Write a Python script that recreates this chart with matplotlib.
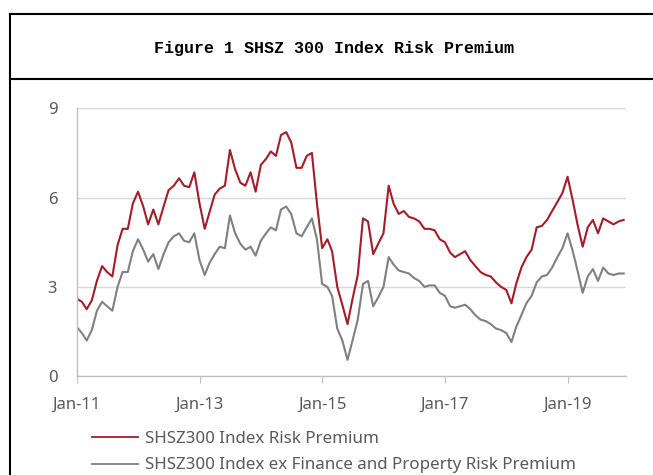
import matplotlib.pyplot as plt
import matplotlib.dates as mdates
from matplotlib.lines import Line2D
import pandas as pd

# monthly readings, Jan-2011 .. Dec-2019
months = pd.date_range('2011-01-01', periods=108, freq='MS')

risk_premium = [
    2.6, 2.5, 2.25, 2.55, 3.2, 3.7, 3.5, 3.35, 4.4, 4.95, 4.95, 5.8,
    6.2, 5.7, 5.1, 5.6, 5.1, 5.7, 6.25, 6.4, 6.65, 6.4, 6.35, 6.85,
    5.8, 4.95, 5.5, 6.1, 6.3, 6.4, 7.6, 6.95, 6.5, 6.4, 6.85, 6.2,
    7.1, 7.3, 7.55, 7.4, 8.1, 8.2, 7.85, 7.0, 7.0, 7.4, 7.5, 5.8,
    4.3, 4.6, 4.2, 3.0, 2.4, 1.75, 2.6, 3.4, 5.3, 5.2, 4.1, 4.45,
    4.8, 6.4, 5.8, 5.45, 5.55, 5.35, 5.3, 5.2, 4.95, 4.95, 4.9, 4.6,
    4.5, 4.15, 4.0, 4.1, 4.2, 3.9, 3.7, 3.5, 3.4, 3.35, 3.15, 3.0,
    2.9, 2.45, 3.1, 3.65, 4.0, 4.25, 5.0, 5.05, 5.25, 5.55, 5.85, 6.15,
    6.7, 5.9, 5.1, 4.35, 5.0, 5.25, 4.8, 5.3, 5.2, 5.1, 5.2, 5.25,
]

risk_premium_ex_fin = [
    1.65, 1.45, 1.2, 1.55, 2.2, 2.5, 2.35, 2.2, 3.0, 3.5, 3.5, 4.2,
    4.6, 4.25, 3.85, 4.1, 3.6, 4.1, 4.5, 4.7, 4.8, 4.55, 4.5, 4.8,
    3.9, 3.4, 3.8, 4.1, 4.35, 4.3, 5.4, 4.8, 4.45, 4.25, 4.35, 4.05,
    4.55, 4.8, 5.0, 4.9, 5.6, 5.7, 5.45, 4.8, 4.7, 5.0, 5.3, 4.6,
    3.1, 3.0, 2.7, 1.6, 1.2, 0.55, 1.2, 1.9, 3.1, 3.2, 2.35, 2.65,
    3.0, 4.0, 3.75, 3.55, 3.5, 3.45, 3.3, 3.2, 3.0, 3.05, 3.05, 2.8,
    2.7, 2.35, 2.3, 2.35, 2.4, 2.25, 2.05, 1.9, 1.85, 1.75, 1.6, 1.55,
    1.45, 1.15, 1.65, 2.05, 2.45, 2.7, 3.15, 3.35, 3.4, 3.65, 4.0, 4.3,
    4.8, 4.2, 3.55, 2.8, 3.35, 3.6, 3.2, 3.65, 3.45, 3.4, 3.45, 3.45,
]

labels = ['SHSZ300 Index Risk Premium',
          'SHSZ300 Index ex Finance and Property Risk Premium']
yticks = [0, 3, 6, 9]
xtick_dates = pd.to_datetime(['2011-01-01', '2013-01-01', '2015-01-01',
                              '2017-01-01', '2019-01-01'])

red = '#a31c2a'
grey = '#808080'
txt = '#595959'

fig = plt.figure(figsize=(6.53, 4.75), dpi=100)
ax = fig.add_axes([0.1175, 0.208, 0.8412, 0.564])

ax.plot(months, risk_premium, color=red, lw=1.5)
ax.plot(months, risk_premium_ex_fin, color=grey, lw=1.5)

ax.set_ylim(0, 9)
ax.set_yticks(yticks)
ax.set_xlim(pd.Timestamp('2011-01-01'), pd.Timestamp('2019-12-15'))
ax.set_xticks(xtick_dates)
ax.xaxis.set_major_formatter(mdates.DateFormatter('%b-%y'))

ax.grid(axis='y', color='#d9d9d9', lw=1)
ax.set_axisbelow(True)
for s in ['top', 'right']:
    ax.spines[s].set_visible(False)
for s in ['left', 'bottom']:
    ax.spines[s].set_color('#bfbfbf')
    ax.spines[s].set_linewidth(1)
ax.tick_params(axis='y', length=0, pad=14, labelsize=12, labelcolor=txt)
ax.tick_params(axis='x', length=5, color='#bfbfbf', pad=10,
               labelsize=12, labelcolor=txt)
for t in ax.get_xticklabels() + ax.get_yticklabels():
    t.set_family('Noto Sans')

# legend below the plot
handles = [Line2D([], [], color=red, lw=1.3), Line2D([], [], color=grey, lw=1.3)]
fig.legend(handles, labels, loc='upper left', bbox_to_anchor=(0.141, 0.092),
           frameon=False, handlelength=2.7, handletextpad=0.4,
           labelspacing=0.6, borderaxespad=0, borderpad=0,
           prop={'family': 'Noto Sans', 'size': 12.2}, labelcolor=txt)

# title box
fig.add_artist(Line2D([10 / 653, 1], [1 - 14 / 475] * 2, color='black', lw=1.5))
fig.add_artist(Line2D([10 / 653, 1], [1 - 79 / 475] * 2, color='black', lw=1.5))
fig.add_artist(Line2D([10 / 653] * 2, [0, 1 - 14 / 475], color='black', lw=1.5))
fig.text(0.512, 1 - 49 / 475, 'Figure 1 SHSZ 300 Index Risk Premium',
         ha='center', va='center', family='Liberation Mono', fontsize=12,
         weight='bold')

fig.savefig('out.png', dpi=100)
